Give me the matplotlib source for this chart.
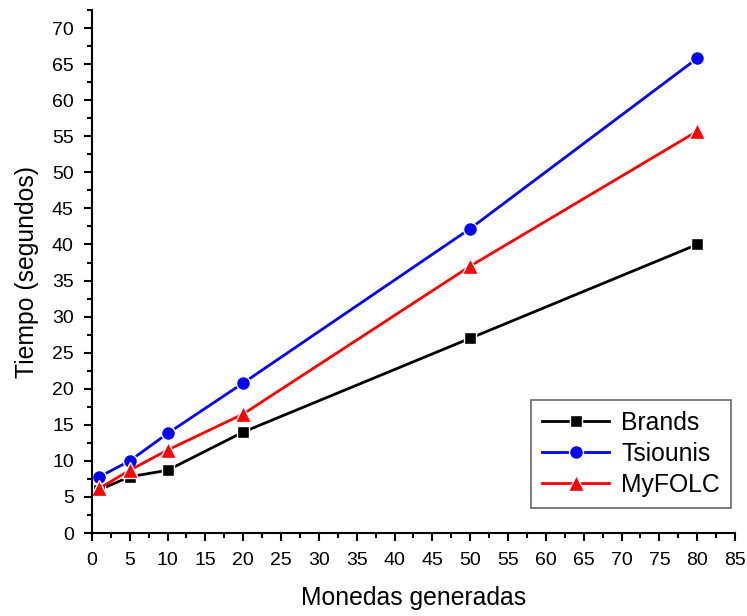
import matplotlib
matplotlib.use("Agg")
import matplotlib.pyplot as plt
from matplotlib.ticker import MultipleLocator

plt.rcParams['font.family'] = ['Liberation Sans', 'DejaVu Sans']

x = [1, 5, 10, 20, 50, 80]
brands = [6.0, 7.8, 8.7, 14.0, 27.0, 40.0]
tsiounis = [7.8, 10.0, 13.8, 20.8, 42.2, 65.8]
myfolc = [6.2, 8.7, 11.5, 16.5, 37.0, 55.7]

fig = plt.figure(figsize=(7.47, 6.16), dpi=100)
ax = fig.add_axes([0.123, 0.1347, 0.861, 0.849])

kw = dict(linewidth=2.0, markeredgecolor='white', markeredgewidth=1.0)
ax.plot(x, brands, color='black', marker='s', markersize=9, markerfacecolor='black', label='Brands', **kw)
ax.plot(x, tsiounis, color='blue', marker='o', markersize=10, markerfacecolor='blue', label='Tsiounis', **kw)
ax.plot(x, myfolc, color='red', marker='^', markersize=11, markerfacecolor='red', label='MyFOLC', **kw)

ax.set_xlim(0, 85)
ax.set_ylim(0, 72.5)
ax.xaxis.set_major_locator(MultipleLocator(5))
ax.xaxis.set_minor_locator(MultipleLocator(2.5))
ax.yaxis.set_major_locator(MultipleLocator(5))
ax.yaxis.set_minor_locator(MultipleLocator(2.5))
for s in ['top', 'right']:
    ax.spines[s].set_visible(False)
for s in ['left', 'bottom']:
    ax.spines[s].set_linewidth(1.5)
ax.tick_params(which='major', direction='out', length=6, width=1.5, labelsize=14, colors='black')
ax.tick_params(axis='x', which='major', pad=8)
ax.tick_params(axis='y', which='major', pad=7)
ax.tick_params(which='minor', direction='out', length=3.5, width=1.5)

ax.set_xlabel('Monedas generadas', fontsize=17.8, labelpad=12)
ax.set_ylabel('Tiempo (segundos)', fontsize=17.8, labelpad=9)

leg = ax.legend(loc='lower right', bbox_to_anchor=(0.994, 0.048), fontsize=17.8, frameon=True,
                fancybox=False, edgecolor='#404040', handlelength=2.7, borderpad=0.45,
                labelspacing=0.28, handletextpad=0.5, borderaxespad=0.0)
leg.get_frame().set_linewidth(1.2)

fig.savefig('out.png', dpi=100)
